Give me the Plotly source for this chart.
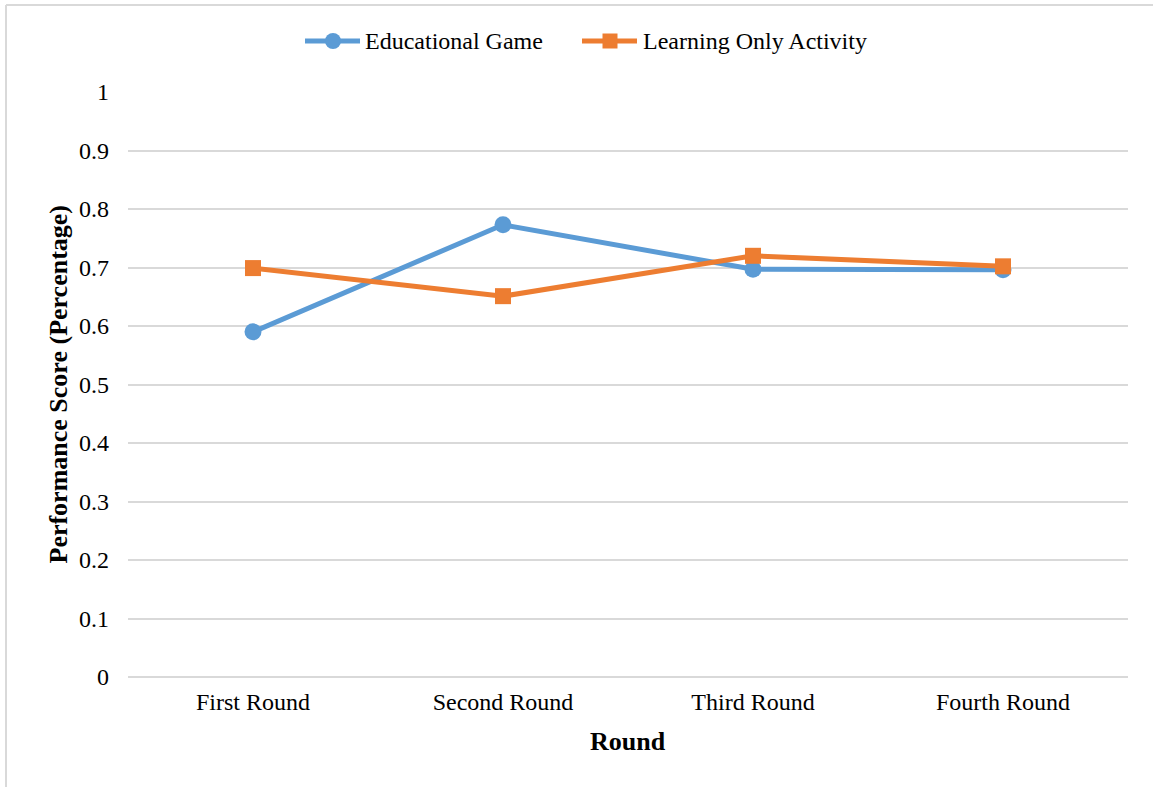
import plotly.graph_objects as go

rounds = ["First Round", "Second Round", "Third Round", "Fourth Round"]
educational_game = [0.59, 0.773, 0.697, 0.696]
learning_only = [0.699, 0.651, 0.72, 0.702]
y_ticks = [0, 0.1, 0.2, 0.3, 0.4, 0.5, 0.6, 0.7, 0.8, 0.9, 1]
y_tick_labels = ["0", "0.1", "0.2", "0.3", "0.4", "0.5", "0.6", "0.7", "0.8", "0.9", "1"]
series_names = ["Educational Game", "Learning Only Activity"]
series_colors = ["#5B9BD5", "#ED7D31"]

FONT = "Liberation Serif"

# plot area in pixels
L, R, T, B = 128, 25, 92, 110
W, H = 1153, 787
PW, PH = W - L - R, H - T - B


def px(x):
    return (x - L) / PW


def py(y):
    return (H - B - y) / PH


fig = go.Figure()
fig.add_trace(go.Scatter(
    x=rounds, y=educational_game, name=series_names[0], mode="lines+markers",
    line=dict(color=series_colors[0], width=5),
    marker=dict(symbol="circle", size=17, color=series_colors[0]),
    showlegend=False,
))
fig.add_trace(go.Scatter(
    x=rounds, y=learning_only, name=series_names[1], mode="lines+markers",
    line=dict(color=series_colors[1], width=5),
    marker=dict(symbol="square", size=16, color=series_colors[1]),
    showlegend=False,
))

# manual legend (serif text)
ly = 41
shapes = [
    dict(type="line", xref="paper", yref="paper", x0=px(305), x1=px(360), y0=py(ly), y1=py(ly),
         line=dict(color=series_colors[0], width=5)),
    dict(type="circle", xref="paper", yref="paper", x0=px(333 - 8), x1=px(333 + 8),
         y0=py(ly + 8), y1=py(ly - 8), fillcolor=series_colors[0], line=dict(width=0)),
    dict(type="line", xref="paper", yref="paper", x0=px(582), x1=px(637), y0=py(ly), y1=py(ly),
         line=dict(color=series_colors[1], width=5)),
    dict(type="rect", xref="paper", yref="paper", x0=px(610 - 7.5), x1=px(610 + 7.5),
         y0=py(ly + 7.5), y1=py(ly - 7.5), fillcolor=series_colors[1], line=dict(width=0)),
    # chart border (top and left visible)
    dict(type="line", xref="paper", yref="paper", x0=px(6), x1=px(1160),
         y0=py(5), y1=py(5), line=dict(color="#D9D9D9", width=2)),
    dict(type="line", xref="paper", yref="paper", x0=px(6), x1=px(6),
         y0=py(5), y1=py(800), line=dict(color="#D9D9D9", width=2)),
]

annotations = [
    dict(text=series_names[0], xref="paper", yref="paper", x=px(363), y=py(ly),
         xanchor="left", yanchor="middle", showarrow=False, font=dict(size=24, family=FONT)),
    dict(text=series_names[1], xref="paper", yref="paper", x=px(641), y=py(ly),
         xanchor="left", yanchor="middle", showarrow=False, font=dict(size=24, family=FONT)),
    dict(text="<b>Performance Score (Percentage)</b>", xref="paper", yref="paper",
         x=px(58), y=0.5, xanchor="center", yanchor="middle", textangle=-90,
         showarrow=False, font=dict(size=26, family=FONT)),
    dict(text="<b>Round</b>", xref="paper", yref="paper",
         x=0.5, y=py(741), xanchor="center", yanchor="middle",
         showarrow=False, font=dict(size=26, family=FONT)),
]

fig.update_layout(
    width=W, height=H,
    margin=dict(l=L, r=R, t=T, b=B),
    paper_bgcolor="white", plot_bgcolor="white",
    font=dict(family=FONT, size=24, color="#000000"),
    showlegend=False,
    xaxis=dict(
        type="category", range=[-0.5, 3.5], showgrid=False, showline=False, zeroline=False,
        ticks="", ticklabelstandoff=8, tickfont=dict(size=24, family=FONT),
    ),
    yaxis=dict(
        range=[0, 1], tickvals=y_ticks, ticktext=y_tick_labels, showgrid=True,
        gridcolor="#D9D9D9", gridwidth=1.5, zeroline=True, zerolinecolor="#D9D9D9",
        zerolinewidth=1.5, showline=False, ticks="", ticklabelstandoff=18,
        tickfont=dict(size=24, family=FONT),
    ),
    annotations=annotations,
    shapes=shapes,
)

fig.write_html("out.html")
